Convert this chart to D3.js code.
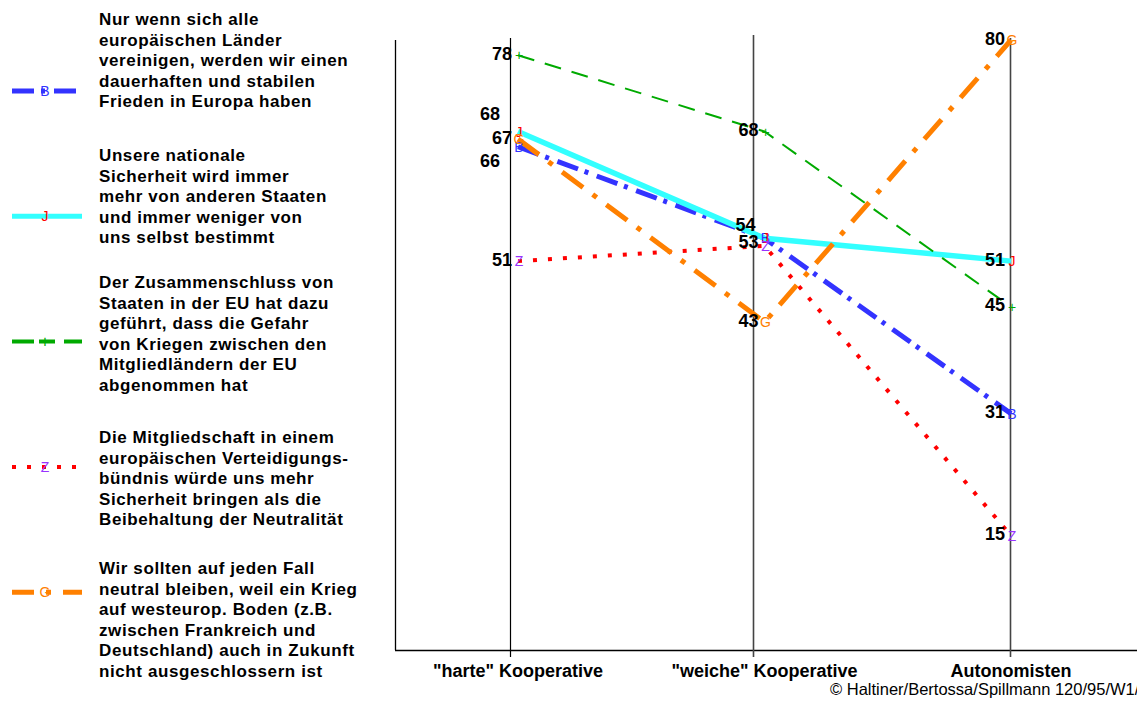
<!DOCTYPE html>
<html>
<head>
<meta charset="utf-8">
<script src="https://cdn.jsdelivr.net/npm/d3@7"></script>
<style>
  html, body { margin: 0; padding: 0; background: #fff; overflow: hidden; }
  svg { display: block; font-family: "Liberation Sans", Arial, sans-serif; }
</style>
</head>
<body>
<svg id="chart" width="1137" height="702"></svg>
<script>
// ---------- data ----------
const categories = ['"harte" Kooperative', '"weiche" Kooperative', 'Autonomisten'];
const seriesB = [66, 54, 31];
const seriesJ = [68, 54, 51];
const seriesH = [78, 68, 45];
const seriesZ = [51, 53, 15];
const seriesG = [67, 43, 80];
const markerLetters = ['B', 'J', '+', 'Z', 'G'];
const legendB = ['Nur wenn sich alle', 'europäischen Länder', 'vereinigen, werden wir einen', 'dauerhaften und stabilen', 'Frieden in Europa haben'];
const legendJ = ['Unsere nationale', 'Sicherheit wird immer', 'mehr von anderen Staaten', 'und immer weniger von', 'uns selbst bestimmt'];
const legendH = ['Der Zusammenschluss von', 'Staaten in der EU hat dazu', 'geführt, dass die Gefahr', 'von Kriegen zwischen den', 'Mitgliedländern der EU', 'abgenommen hat'];
const legendZ = ['Die Mitgliedschaft in einem', 'europäischen Verteidigungs-', 'bündnis würde uns mehr', 'Sicherheit bringen als die', 'Beibehaltung der Neutralität'];
const legendG = ['Wir sollten auf jeden Fall', 'neutral bleiben, weil ein Krieg', 'auf westeurop. Boden (z.B.', 'zwischen Frankreich und', 'Deutschland) auch in Zukunft', 'nicht ausgeschlossern ist'];
const copyrightText = '©  Haltiner/Bertossa/Spillmann 120/95/W1/';

// ---------- styles / layout ----------
const styles = [
  { color: '#3333ff', width: 5,   dash: '22,7,4,9',   legendDash: '22,7,4,9',  legendWidth: 5, marker: '#3333ff' },
  { color: '#33ffff', width: 5.5, dash: null,         legendDash: null,        legendWidth: 5, marker: '#ff0000' },
  { color: '#00aa00', width: 2,   dash: '17,11',      legendDash: '22,5,16,9', legendWidth: 4, marker: '#00aa00' },
  { color: '#ff0000', width: 4,   dash: '4,11',       legendDash: '4,11',      legendWidth: 4, marker: '#9933ff' },
  { color: '#ff8000', width: 5,   dash: '26,12,5,12', legendDash: '22,12,5,12',legendWidth: 5, marker: '#ff8000' }
];
const legendTextTop = [25, 161, 288, 443, 574];
const series = [seriesB, seriesJ, seriesH, seriesZ, seriesG];
const legends = [legendB, legendJ, legendH, legendZ, legendG];

const svg = d3.select('#chart');
const x = d3.scalePoint().domain(categories).range([518, 1011]);
const xGrid = d3.scaleOrdinal().domain(categories).range([510.5, 753.5, 1010.5]);
const y = d3.scaleLinear().domain([0, 80]).range([650, 40]);

// ---------- axes & grid ----------
const g = svg.append('g');
g.append('line').attr('x1', 395.5).attr('x2', 395.5).attr('y1', y(80)).attr('y2', y(0))
  .attr('stroke', '#000').attr('stroke-width', 1.3);
g.append('line').attr('x1', 395).attr('x2', 1137).attr('y1', y(0) + 0.5).attr('y2', y(0) + 0.5)
  .attr('stroke', '#000').attr('stroke-width', 1.5);
g.selectAll('.grid').data(categories).join('line')
  .attr('class', 'grid')
  .attr('x1', d => xGrid(d)).attr('x2', d => xGrid(d))
  .attr('y1', (d, i) => i === 1 ? y(80) - 5 : y(80) - 2)
  .attr('y2', y(0) + 7)
  .attr('stroke', (d, i) => i === 0 ? '#000' : '#444')
  .attr('stroke-width', (d, i) => i === 0 ? 1.2 : 1.6);

g.selectAll('.cat').data(categories).join('text')
  .attr('class', 'cat')
  .attr('x', d => x(d)).attr('y', 677)
  .attr('text-anchor', 'middle')
  .attr('font-size', 18).attr('font-weight', 'bold')
  .text(d => d);

// ---------- lines ----------
const line = d3.line().x((d, i) => x(categories[i])).y(d => y(d));
series.forEach((s, k) => {
  const st = styles[k];
  svg.append('path').datum(s)
    .attr('d', line)
    .attr('fill', 'none')
    .attr('stroke', st.color)
    .attr('stroke-width', st.width)
    .attr('stroke-dasharray', st.dash)
    .attr('stroke-linecap', 'butt');
});

// ---------- markers ----------
series.forEach((s, k) => {
  svg.selectAll('.m' + k).data(s).join('text')
    .attr('class', 'm' + k)
    .attr('x', (d, i) => x(categories[i]) + 1)
    .attr('y', d => y(d) + 5)
    .attr('text-anchor', 'middle')
    .attr('font-size', 14)
    .attr('fill', styles[k].marker)
    .text(markerLetters[k]);
});

// ---------- value labels ----------
categories.forEach((cat, i) => {
  const seen = new Set();
  const items = [];
  series.forEach(s => {
    if (!seen.has(s[i])) { seen.add(s[i]); items.push({ v: s[i], py: y(s[i]) }); }
  });
  items.sort((a, b) => a.py - b.py);
  const groups = [];
  items.forEach(it => {
    const last = groups[groups.length - 1];
    if (last && it.py - last[last.length - 1].py < 18) last.push(it);
    else groups.push([it]);
  });
  groups.forEach(gr => {
    if (gr.length === 1) { gr[0].cy = gr[0].py - 2; gr[0].dx = 0; }
    else if (gr.length === 2) {
      gr[1].cy = gr[1].py - 4; gr[1].dx = 0;
      gr[0].cy = gr[1].cy - 17; gr[0].dx = -3;
    } else {
      const mid = Math.floor(gr.length / 2);
      gr.forEach((it, j) => {
        it.cy = gr[mid].py - 2 + (j - mid) * 23.5;
        it.dx = j === mid ? 0 : -12;
      });
    }
  });
  svg.selectAll('.lab' + i).data(items).join('text')
    .attr('class', 'lab' + i)
    .attr('x', d => x(cat) - 6 + d.dx)
    .attr('y', d => d.cy + 6.5)
    .attr('text-anchor', 'end')
    .attr('font-size', 18).attr('font-weight', 'bold')
    .text(d => d.v);
});

// ---------- legend ----------
legends.forEach((lines, k) => {
  const st = styles[k];
  const sy = 91 + 125.3 * k;
  svg.append('line').attr('x1', 12).attr('x2', 82).attr('y1', sy).attr('y2', sy)
    .attr('stroke', st.color).attr('stroke-width', st.legendWidth)
    .attr('stroke-dasharray', st.legendDash);
  svg.append('text').attr('x', 45).attr('y', sy + 5)
    .attr('text-anchor', 'middle').attr('font-size', k === 2 ? 17 : 14)
    .attr('fill', st.marker).text(markerLetters[k]);
  svg.append('g').selectAll('text').data(lines).join('text')
    .attr('x', 99).attr('y', (d, j) => legendTextTop[k] + j * 20.6)
    .attr('font-size', 17).attr('font-weight', 'bold')
    .attr('letter-spacing', 0.6)
    .text(d => d);
});

// ---------- copyright ----------
svg.append('text').attr('x', 830).attr('y', 695)
  .attr('font-size', 16.5).text(copyrightText);
</script>
</body>
</html>
